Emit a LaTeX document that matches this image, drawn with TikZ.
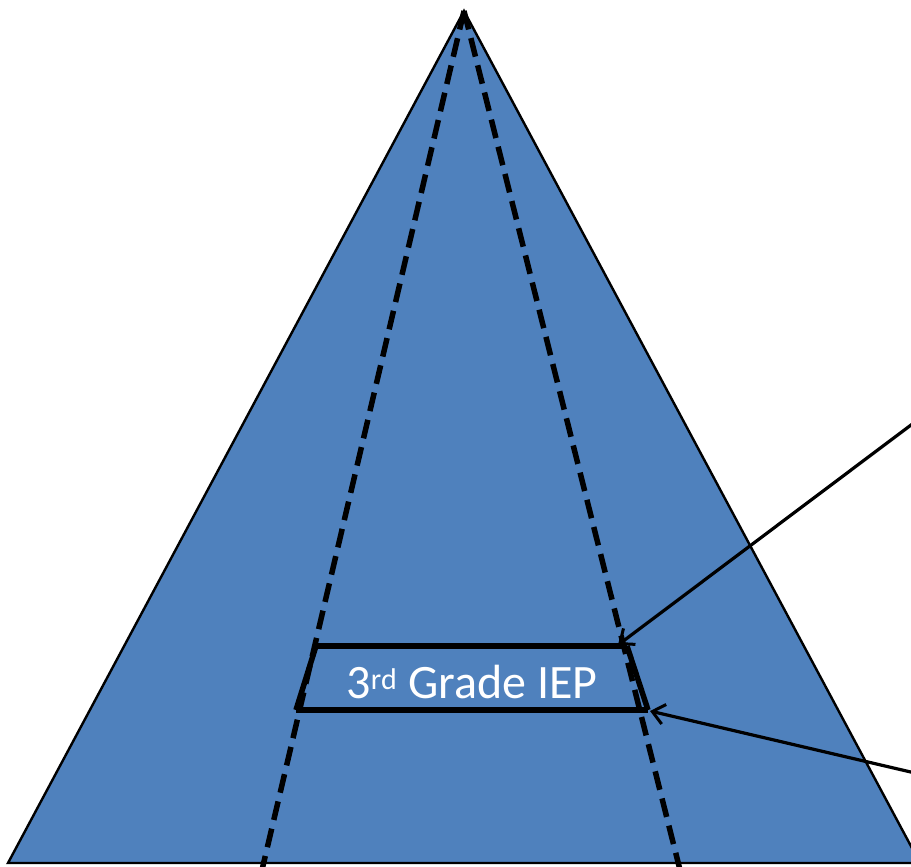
\documentclass[tikz,border=0pt]{standalone}
\usepackage{fontspec}
\setmainfont{Carlito}
\usetikzlibrary{arrows.meta}
\definecolor{pyblue}{HTML}{4F81BD}
\tikzset{
  dashline/.style={line width=5.5pt, dash pattern=on 19pt off 9pt},
  band/.style={line width=5.5pt},
  pointer/.style={line width=3.2pt, -{Straight Barb[length=12pt,width=20pt,line width=3pt]}},
}
\begin{document}
\begin{tikzpicture}[x=1pt,y=-1pt]
\useasboundingbox (0,0) rectangle (911,867);
\clip (0,0) rectangle (911,867);
\coordinate (apex) at (464,11);
\coordinate (bl) at (8,863);
\coordinate (br) at (920,863);
\fill[pyblue] (apex) -- (bl) -- (br) -- cycle;
\draw[line width=2.4pt, line join=miter] (apex) -- (bl) -- (br) -- cycle;
\coordinate (dl) at (262,870);
\coordinate (dr) at (680,870);
\draw[dashline] (apex) -- (dl);
\draw[dashline] (apex) -- (dr);
\coordinate (tl) at (316,646);
\coordinate (tr) at (627,646);
\coordinate (bbl) at (296,710);
\coordinate (bbr) at (648,710);
\draw[band] (tl) -- (tr);
\draw[band] (bbl) -- (bbr);
\draw[band] (tl) -- (bbl);
\draw[band] (tr) -- (bbr);
\node[text=white, font=\fontsize{48}{54}\selectfont] (lbl) at (472,682) {3\textsuperscript{\fontsize{30}{30}\selectfont rd} Grade IEP};
\coordinate (a1) at (915,422);
\coordinate (a2) at (915,773);
\draw[pointer] (a1) -- (618,645);
\draw[pointer] (a2) -- (650,711);
\end{tikzpicture}
\end{document}
